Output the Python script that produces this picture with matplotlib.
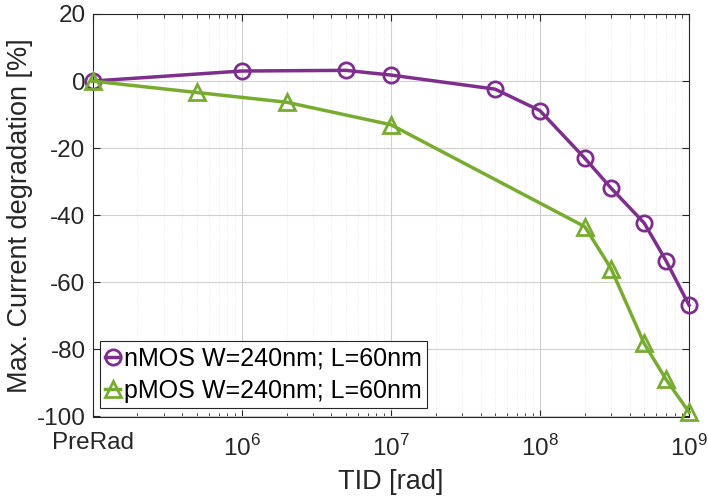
import matplotlib
matplotlib.use("Agg")
import matplotlib.pyplot as plt
from matplotlib.ticker import FixedLocator, FixedFormatter, LogLocator, NullFormatter
from matplotlib.transforms import ScaledTranslation

plt.rcParams['font.family'] = ['Liberation Sans', 'DejaVu Sans']
plt.rcParams['mathtext.fontset'] = 'custom'
plt.rcParams['mathtext.rm'] = 'Liberation Sans'
plt.rcParams['axes.unicode_minus'] = False

# data
nmos_x = [1e5, 1e6, 5e6, 1e7, 5e7, 1e8, 2e8, 3e8, 5e8, 7e8, 1e9]
nmos_y = [0, 3.0, 3.2, 1.8, -2.4, -8.8, -23.0, -31.9, -42.3, -53.5, -66.8]
pmos_x = [1e5, 5e5, 2e6, 1e7, 2e8, 3e8, 5e8, 7e8, 1e9]
pmos_y = [0, -3.4, -6.3, -13.0, -43.4, -55.9, -78.2, -88.9, -98.7]
x_ticks = [1e5, 1e6, 1e7, 1e8, 1e9]
x_ticklabels = ['PreRad', r'$10^6$', r'$10^7$', r'$10^8$', r'$10^9$']
y_ticks = [20, 0, -20, -40, -60, -80, -100]
y_ticklabels = ['20', '0', '-20', '-40', '-60', '-80', '-100']
labels = ['nMOS W=240nm; L=60nm', 'pMOS W=240nm; L=60nm']

purple = '#7E2F8E'
green = '#77AC30'

fig = plt.figure(figsize=(7.08, 5.0), dpi=100)
ax = fig.add_axes([0.1307, 0.167, 0.8425, 0.805])

ax.plot(nmos_x, nmos_y, color=purple, lw=2.5, marker='o', ms=11,
        mfc='none', mew=2, label=labels[0], zorder=3, clip_on=False)
ax.plot(pmos_x, pmos_y, color=green, lw=2.5, marker='^', ms=11,
        mfc='none', mew=2, label=labels[1], zorder=3, clip_on=False)

ax.set_xscale('log')
ax.set_xlim(1e5, 1e9)
ax.set_ylim(-100, 20)
ax.xaxis.set_major_locator(FixedLocator(x_ticks))
ax.xaxis.set_major_formatter(FixedFormatter(x_ticklabels))
ax.xaxis.set_minor_locator(LogLocator(base=10, subs=range(2, 10), numticks=20))
ax.xaxis.set_minor_formatter(NullFormatter())
ax.set_yticks(y_ticks)
ax.set_yticklabels(y_ticklabels)

ax.grid(True, which='major', color='#d0d0d0', lw=0.8)
ax.grid(True, which='minor', axis='x', color='#e6e6e6', lw=0.6, ls=':')
ax.set_axisbelow(True)

ax.tick_params(which='both', direction='in', top=True, right=True,
               labelsize=17.5, colors='#262626')
ax.tick_params(which='major', length=5, width=0.8)
ax.tick_params(which='minor', length=3, width=0.6)
ax.tick_params(axis='x', pad=13.5)
ax.tick_params(axis='y', pad=5)
for s in ax.spines.values():
    s.set_color('#262626')
    s.set_linewidth(0.8)

# lift the plain-text "PreRad" label slightly (the 10^n labels are taller)
pre_lbl = ax.xaxis.get_major_ticks()[0].label1
pre_lbl.set_transform(pre_lbl.get_transform() + ScaledTranslation(0, 3 / 100, fig.dpi_scale_trans))

ax.set_xlabel('TID [rad]', fontsize=19.5, color='#262626', labelpad=6)
ax.set_ylabel('Max. Current degradation [%]', fontsize=19.5, color='#262626', labelpad=3)

leg = ax.legend(loc='lower left', bbox_to_anchor=(0.0126, 0.021), fontsize=18,
                handlelength=0.6, handletextpad=0.15,
                borderpad=0.2, labelspacing=0.35, fancybox=False, framealpha=1,
                edgecolor='#262626', borderaxespad=0.0)
leg.get_frame().set_linewidth(0.8)

fig.savefig('out.png', dpi=100)
